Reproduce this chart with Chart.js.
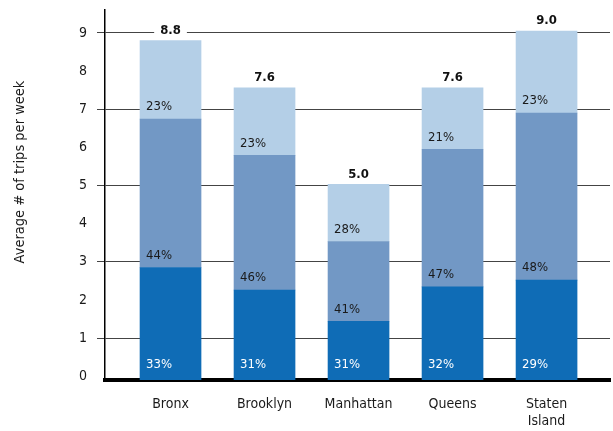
<!DOCTYPE html>
<html>
<head>
<meta charset="utf-8">
<script src="https://cdn.jsdelivr.net/npm/chart.js@4.4.0/dist/chart.umd.min.js"></script>
<style>
  body { margin: 0; background: #fff; }
  #wrap { width: 613px; height: 431px; }
</style>
</head>
<body>
<div id="wrap"><canvas id="tripsChart" width="613" height="431"></canvas></div>
<script>
const boroughs = ['Bronx', 'Brooklyn', 'Manhattan', 'Queens', 'Staten Island'];
const totals = [8.8, 7.6, 5.0, 7.6, 9.0];
// trips per week, split by segment (bottom to top)
const darkValues = [2.85, 2.26, 1.44, 2.34, 2.52];
const midValues = [3.89, 3.53, 2.09, 3.61, 4.38];
const lightValues = [2.06, 1.77, 1.50, 1.61, 2.15];
const darkPct = [33, 31, 31, 32, 29];
const midPct = [44, 46, 41, 47, 48];
const lightPct = [23, 23, 28, 21, 23];
const yTicks = [0, 1, 2, 3, 4, 5, 6, 7, 8, 9];

const FONT = '"DejaVu Sans Condensed", "Liberation Sans Narrow", sans-serif';
const pcts = [darkPct, midPct, lightPct];

const labelPlugin = {
    id: 'segmentLabels',
    afterDatasetsDraw(chart) {
        const ctx = chart.ctx;
        ctx.save();

        // percent labels near the bottom of each segment
        ctx.font = '13px ' + FONT;
        ctx.textAlign = 'left';
        ctx.textBaseline = 'middle';
        pcts.forEach((arr, d) => {
            const meta = chart.getDatasetMeta(d);
            meta.data.forEach((bar, i) => {
                ctx.fillStyle = d === 0 ? '#ffffff' : '#1a1a1a';
                const base = d === 0 ? chart.scales.y.getPixelForValue(0) : bar.base;
                ctx.fillText(arr[i] + '%', bar.x - bar.width / 2 + 6, base - 12);
            });
        });

        // totals above bars
        ctx.font = 'bold 13px ' + FONT;
        ctx.textAlign = 'center';
        const top = chart.getDatasetMeta(2);
        top.data.forEach((bar, i) => {
            const txt = totals[i].toFixed(1);
            const w = ctx.measureText(txt).width + 12;
            const y = bar.y - 10;
            ctx.fillStyle = '#ffffff';
            ctx.fillRect(bar.x - w / 2, y - 8, w, 16);
            ctx.fillStyle = '#111111';
            ctx.fillText(txt, bar.x, y);
        });

        // y axis title
        ctx.font = '14.5px ' + FONT;
        ctx.fillStyle = '#1a1a1a';
        ctx.translate(20, 172);
        ctx.rotate(-Math.PI / 2);
        ctx.fillText('Average # of trips per week', 0, 0);
        ctx.restore();
    }
};

function makeSet(label, values, color, base) {
    const ds = {
        label: label,
        data: values.map((v, i) => ({ x: i, y: v })),
        backgroundColor: color,
        borderWidth: 0,
        barThickness: 61
    };
    if (base !== undefined) ds.base = base;
    return ds;
}

const ctx = document.getElementById('tripsChart').getContext('2d');
new Chart(ctx, {
    type: 'bar',
    data: {
        datasets: [
            makeSet('Dark', darkValues, '#0f6cb6', -0.1),
            makeSet('Mid', midValues, '#7298c5'),
            makeSet('Light', lightValues, '#b4cfe7')
        ]
    },
    options: {
        responsive: false,
        animation: false,
        layout: { padding: { top: 10, right: 3, bottom: 0, left: 0 } },
        plugins: {
            legend: { display: false },
            tooltip: { enabled: false }
        },
        scales: {
            x: {
                type: 'linear',
                stacked: true,
                offset: false,
                min: -0.697,
                max: 4.675,
                afterBuildTicks: s => { s.ticks = [0, 1, 2, 3, 4].map(v => ({ value: v })); },
                afterFit: s => { s.height = 51; s.paddingLeft = 0; s.paddingRight = 0; },
                grid: { display: false, drawTicks: false },
                border: { display: true, color: '#000', width: 4 },
                ticks: {
                    padding: 16,
                    color: '#1a1a1a',
                    font: { family: FONT, size: 14 },
                    callback: v => {
                        const name = boroughs[v];
                        return name.length > 10 ? name.split(' ') : name;
                    }
                }
            },
            y: {
                stacked: true,
                min: -0.1,
                max: 9.6,
                afterBuildTicks: s => { s.ticks = yTicks.map(v => ({ value: v })); },
                afterFit: s => { s.width = 105; s.paddingTop = 0; s.paddingBottom = 0; },
                grid: {
                    color: c => (c.tick && c.tick.value % 2 === 1) ? '#444' : 'rgba(0,0,0,0)',
                    lineWidth: 1,
                    tickLength: 8
                },
                border: { display: true, color: '#000', width: 1.5 },
                ticks: {
                    padding: 10,
                    color: '#1a1a1a',
                    font: { family: FONT, size: 14 }
                }
            }
        }
    },
    plugins: [labelPlugin]
});
</script>
</body>
</html>
